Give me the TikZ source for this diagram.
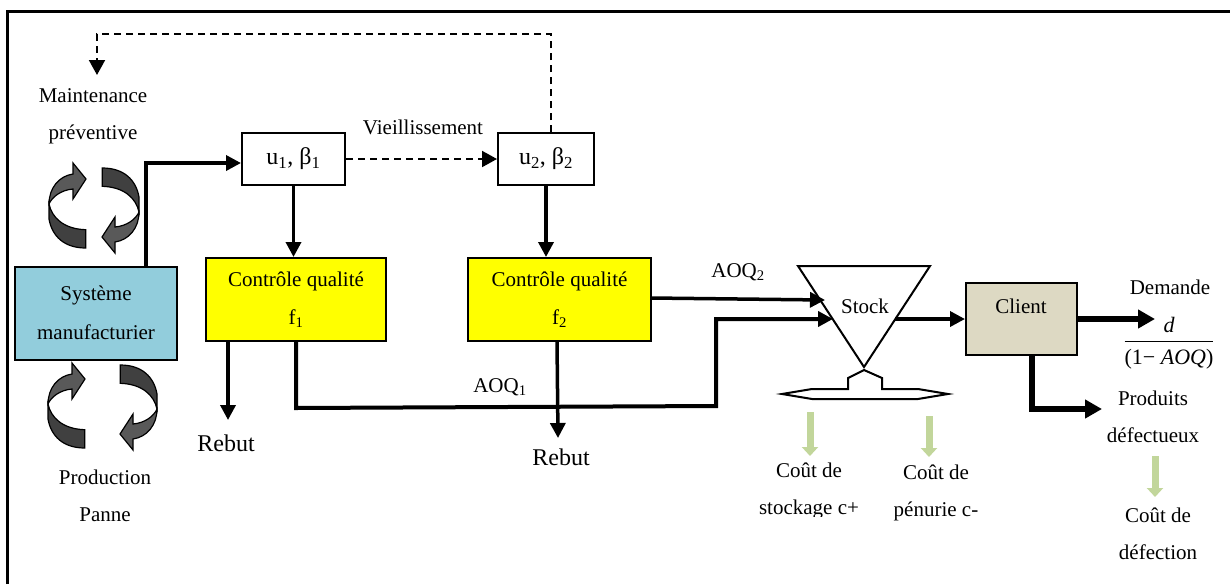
\documentclass[tikz,border=0pt]{standalone}
\usepackage{amsmath}
\usepackage{fontspec}
\setmainfont{Liberation Serif}
\usetikzlibrary{arrows.meta,positioning}
\tikzset{
  box/.style={draw,line width=2pt,align=center,font=\fontsize{21}{38}\selectfont},
  lbl/.style={align=center,inner sep=0pt,font=\fontsize{21}{37}\selectfont},
  flow/.style={line width=3.5pt,-{Triangle[length=15pt,width=15pt]}},
  heavy/.style={line width=6pt,-{Triangle[length=17pt,width=18pt]}},
  dashflow/.style={line width=2pt,dash pattern=on 7pt off 5pt,-{Triangle[length=15pt,width=16pt]}},
  cost/.style={line width=7pt,draw=costgreen,-{Triangle[length=9pt,width=16pt]}},
  rotor/.pic={
    \draw[fill=rotordark,line width=1.2pt] (36.7,66.7) .. controls (15,66) and (3,55) .. (0,41)
      -- (0,56) .. controls (3,73) and (15,85) .. (36.7,85) -- cycle;
    \draw[fill=rotorlight,line width=1.2pt] (0,41) .. controls (0,25) and (10,13) .. (24,11)
      -- (24,0) -- (37,16) -- (24,36) -- (24,26) .. controls (12,27) and (3,34) .. (0,41) -- cycle;
  }
}
\definecolor{sysblue}{HTML}{92CDDC}
\definecolor{clientbeige}{HTML}{DDD9C3}
\definecolor{costgreen}{HTML}{C2D69B}
\definecolor{qualyellow}{HTML}{FFFF00}
\definecolor{rotordark}{HTML}{404040}
\definecolor{rotorlight}{HTML}{595959}

\begin{document}
\begin{tikzpicture}[x=1pt,y=-1pt,on grid]
  \useasboundingbox (0,0) rectangle (1230,584);
  \draw[line width=3pt] (7.5,584) |- (1230,11);

  \node[box,fill=sysblue,minimum width=162pt,minimum height=93pt] (sys) at (96,313.5) {\raisebox{3pt}{Système}\\\raisebox{2pt}{manufacturier}};
  \node[box,font=\fontsize{24}{38}\selectfont,minimum width=103pt,minimum height=52pt] (u_1) [above right=154.5pt and 197.5pt of sys] {u\textsubscript{1}, β\textsubscript{1}};
  \node[box,font=\fontsize{24}{38}\selectfont,minimum width=96pt,minimum height=52pt] (u_2) [right=252.5pt of u_1] {u\textsubscript{2}, β\textsubscript{2}};
  \node[box,fill=qualyellow,minimum width=180pt,minimum height=83pt] (cq_1) [below=140.5pt of u_1,xshift=2.5pt] {\raisebox{-2.5pt}{Contrôle qualité}\\\raisebox{-2.5pt}{f\textsubscript{1}}};
  \node[box,fill=qualyellow,minimum width=183pt,minimum height=83pt] (cq_2) [right=263.5pt of cq_1] {\raisebox{-2.5pt}{Contrôle qualité}\\\raisebox{-2.5pt}{f\textsubscript{2}}};
  \node[box,fill=clientbeige,minimum width=111pt,minimum height=72pt] (client) at (1021.5,319) {};

  \node[lbl] (maint) [above=197pt of sys,xshift=-3pt] {Maintenance\\préventive};
  \node[lbl] (prod) [below=182pt of sys,xshift=9pt] {Production\\Panne};
  \node[lbl] (vieil) at (423,127) {Vieillissement};
  \node[lbl] (aoq_2) at (738,272) {AOQ\textsubscript{2}};
  \node[lbl] (aoq_1) at (500,387) {AOQ\textsubscript{1}};
  \node[lbl] (stock) at (865,306) {Stock};
  \node[lbl] (clienttxt) at (1021,306) {Client};
  \node[lbl] (demande) at (1170,287) {Demande};
  \node[lbl,font=\fontsize{24}{37}\selectfont] (rebut_1) at (226,443) {Rebut};
  \node[lbl,font=\fontsize{24}{37}\selectfont] (rebut_2) at (561,457) {Rebut};
  \node[lbl] (defect) at (1153,416.5) {Produits\\défectueux};
  \begin{scope}
    \clip (740,455) rectangle (880,516);
    \node[lbl] (cout_s) at (809,491) {Coût de\\stockage c+};
  \end{scope}
  \node[lbl] (cout_p) at (936,492.5) {Coût de\\pénurie c-};
  \node[lbl] (cout_d) at (1158,534) {Coût de\\défection};
  \node[lbl,font=\fontsize{22}{37}\selectfont] (frac) at (1169,343) {$\dfrac{\text{\itshape d}}{\text{\rule{0pt}{20pt}(1− \itshape AOQ\upshape )}}$};

  % stock
  \coordinate (s_a) at (798,266);
  \coordinate (s_b) at (930,266);
  \coordinate (s_c) at (864,367);
  \draw[line width=2pt] (s_a) -- (s_b) -- (s_c) -- cycle;
  \draw[line width=2pt] (864,370) -- (882,378) -- (882,389) -- (918,389) -- (948,394) -- (918,399)
    -- (812,399) -- (782,394) -- (812,389) -- (848,389) -- (848,378) -- cycle;
  \coordinate (s_in2) at (825,300);
  \coordinate (s_in1) at (833,319);
  \coordinate (s_out) at (895,319);

  % rotating arrows
  \pic at (49,163) {rotor};
  \pic at (139,253) [rotate=180] {rotor};
  \pic at (48,363) {rotor};
  \pic at (157,450) [rotate=180] {rotor};

  \coordinate (m_end) at (97,75);
  \coordinate (r_1) at (228,420);
  \coordinate (r_2) at (558,438);
  \coordinate (bend) at (716,406);
  \coordinate (d_end) at (1155,319);
  \coordinate (p_end) at (1102,409);

  \draw[flow] ([xshift=50pt]sys.north) |- ([yshift=-4pt]u_1.west);
  \draw[dashflow] (u_1.east) -- (u_2.west);
  \draw[dashflow] ([xshift=5pt]u_2.north) |- (551,34) -| (m_end);
  \draw[flow] (u_1.south) -- (u_1.south |- cq_1.north);
  \draw[flow] (u_2.south) -- (u_2.south |- cq_2.north);
  \draw[flow] (228,341) -- (r_1);
  \draw[flow] (557,341) -- (r_2);
  \draw[flow,line width=4pt] (cq_1.south) -- (296,408) -- (bend) |- (s_in1);
  \draw[flow] (651,298) -- (s_in2);
  \draw[flow] (s_out) -- (client.west);
  \draw[heavy] (client.east) -- (d_end);
  \draw[heavy] ([xshift=10pt]client.south) |- (p_end);
  \draw[cost] (810,412) -- (810,456);
  \draw[cost] (929,416) -- (929,457);
  \draw[cost] (1155,456) -- (1155,497);
\end{tikzpicture}
\end{document}
